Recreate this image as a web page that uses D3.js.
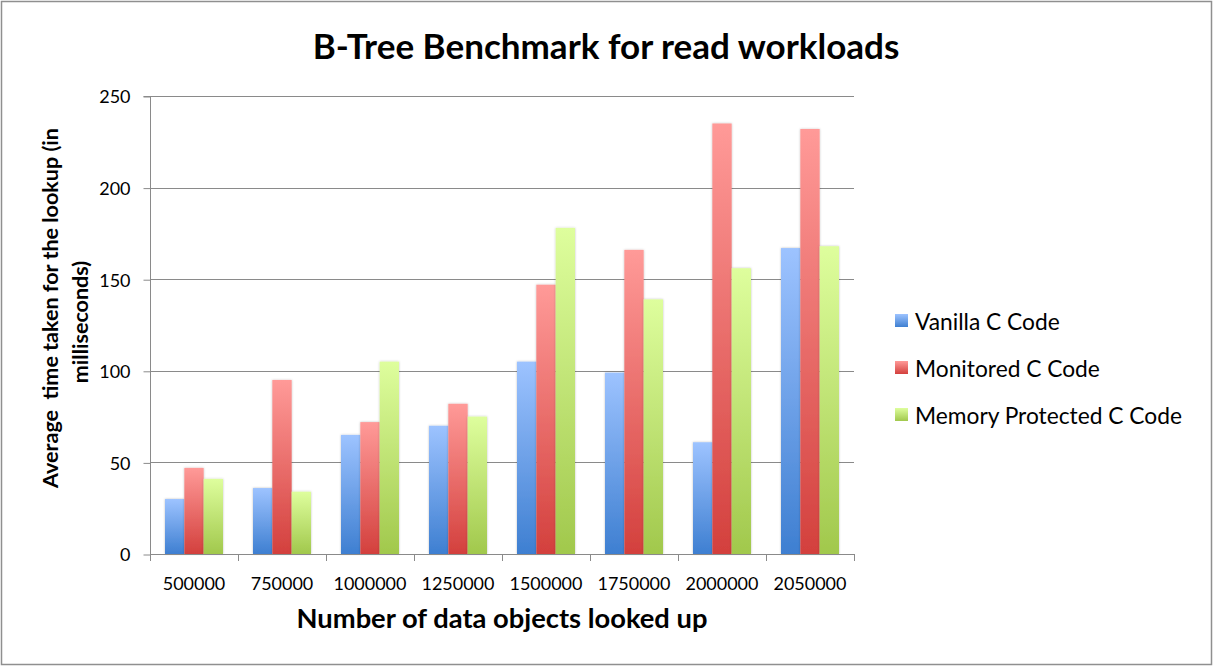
<!DOCTYPE html>
<meta charset="utf-8">
<style>
  body { margin: 0; background: #fff; }
  text { font-family: "Lato", "Open Sans", sans-serif; fill: #000; }
</style>
<body>
<script src="https://d3js.org/d3.v7.min.js"></script>
<script>

// Data.

var categories = ["500000", "750000", "1000000", "1250000", "1500000", "1750000", "2000000", "2050000"];
var seriesNames = ["Vanilla C Code", "Monitored C Code", "Memory Protected C Code"];
var vanilla = [30, 36, 65, 70, 105, 99, 61, 167];
var monitored = [47, 95, 72, 82, 147, 166, 235, 232];
var memProtected = [41, 34, 105, 75, 178, 139, 156, 168];
var yTicks = [0, 50, 100, 150, 200, 250];

var seriesValues = [vanilla, monitored, memProtected];

// Gradient stops per series (top colour, bottom colour).
var gradTop = ["#9dc3ff", "#ff9a98", "#defe9d"];
var gradBottom = ["#3e7fd1", "#d3403d", "#a1c84c"];

var width = 1213,
    height = 667;

var plot = { left: 150, right: 854, top: 96, bottom: 554 };

var svg = d3.select("body").append("svg")
    .attr("width", width)
    .attr("height", height);

svg.append("rect")
    .attr("x", 1.5)
    .attr("y", 1.5)
    .attr("width", width - 3)
    .attr("height", height - 4)
    .attr("fill", "#fff")
    .attr("stroke", "#8f8f8f")
    .attr("stroke-width", 1.5);

var defs = svg.append("defs");

seriesNames.forEach(function(name, i) {
    var g = defs.append("linearGradient")
        .attr("id", "grad" + i)
        .attr("x1", 0).attr("y1", 0)
        .attr("x2", 0).attr("y2", 1);
    g.append("stop").attr("offset", "0%").attr("stop-color", gradTop[i]);
    g.append("stop").attr("offset", "100%").attr("stop-color", gradBottom[i]);
});

var shadow = defs.append("filter")
    .attr("id", "shadow")
    .attr("x", "-20%").attr("y", "-5%")
    .attr("width", "140%").attr("height", "110%");
shadow.append("feDropShadow")
    .attr("dx", 0).attr("dy", 0)
    .attr("stdDeviation", 1.2)
    .attr("flood-color", "#000")
    .attr("flood-opacity", 0.25);

// Scales.

var x = d3.scaleBand()
    .domain(categories)
    .range([plot.left, plot.right]);

var xInner = d3.scaleBand()
    .domain(d3.range(seriesNames.length))
    .range([15, x.bandwidth() - 15]);

var y = d3.scaleLinear()
    .domain([0, 250])
    .range([plot.bottom, plot.top]);

// Fit a text's font size so that it spans a given width.
function fitWidth(sel, w) {
    var size = parseFloat(sel.attr("font-size"));
    var len = sel.node().getComputedTextLength();
    sel.attr("font-size", size * w / len);
    return size * w / len;
}

// Gridlines.

svg.append("g")
    .selectAll("line")
    .data(yTicks.filter(function(d) { return d > 0; }))
    .join("line")
    .attr("x1", plot.left)
    .attr("x2", plot.right)
    .attr("y1", function(d) { return Math.round(y(d)) + 0.5; })
    .attr("y2", function(d) { return Math.round(y(d)) + 0.5; })
    .attr("stroke", "#8a8a8a")
    .attr("stroke-width", 1);

// Bars.

var groups = svg.append("g")
    .selectAll("g")
    .data(categories)
    .join("g")
    .attr("transform", function(d) { return "translate(" + x(d) + ",0)"; });

groups.selectAll("rect")
    .data(function(d, ci) {
        return seriesValues.map(function(vals, si) { return { s: si, v: vals[ci] }; });
    })
    .join("rect")
    .attr("x", function(d) { return xInner(d.s); })
    .attr("width", xInner.bandwidth())
    .attr("y", function(d) { return y(d.v); })
    .attr("height", function(d) { return y(0) - y(d.v); })
    .attr("fill", function(d) { return "url(#grad" + d.s + ")"; })
    .attr("filter", "url(#shadow)");

// Y axis.

var yAxis = d3.axisLeft(y)
    .tickValues(yTicks)
    .tickSize(7)
    .tickPadding(13)
    .tickFormat(d3.format("d"));

var yG = svg.append("g")
    .attr("transform", "translate(" + (plot.left + 0.5) + ",0.5)")
    .call(yAxis);
yG.select(".domain").attr("stroke", "#8a8a8a").attr("d", "M-7," + plot.top + "H0V" + plot.bottom);
yG.selectAll(".tick line").attr("stroke", "#8a8a8a");
yG.selectAll(".tick text")
    .attr("font-family", "Lato")
    .attr("font-size", 19)
    .attr("fill", "#000")
    .attr("dy", "0.36em");

// X axis: ticks at category boundaries.

svg.append("line")
    .attr("x1", plot.left)
    .attr("x2", plot.right)
    .attr("y1", plot.bottom + 0.5)
    .attr("y2", plot.bottom + 0.5)
    .attr("stroke", "#8a8a8a");

svg.append("g")
    .selectAll("line")
    .data(categories.concat([null]))
    .join("line")
    .attr("x1", function(d, i) { return Math.round(plot.left + i * x.step()) + 0.5; })
    .attr("x2", function(d, i) { return Math.round(plot.left + i * x.step()) + 0.5; })
    .attr("y1", plot.bottom)
    .attr("y2", plot.bottom + 7)
    .attr("stroke", "#8a8a8a");

var xLabels = svg.append("g")
    .selectAll("text")
    .data(categories)
    .join("text")
    .attr("x", function(d) { return x(d) + x.bandwidth() / 2; })
    .attr("y", 590)
    .attr("text-anchor", "middle")
    .attr("font-size", 19)
    .text(function(d) { return d; });

var tickSize = fitWidth(xLabels.filter(function(d) { return d === "1000000"; }), 73);
xLabels.attr("font-size", tickSize);
yG.selectAll(".tick text").attr("font-size", tickSize);

// Title.

var title = svg.append("text")
    .attr("x", 606)
    .attr("y", 59)
    .attr("text-anchor", "middle")
    .attr("font-weight", "bold")
    .attr("font-size", 34)
    .text("B-Tree Benchmark for read workloads");
fitWidth(title, 587);

// Axis titles.

var xTitle = svg.append("text")
    .attr("x", 502)
    .attr("y", 628)
    .attr("text-anchor", "middle")
    .attr("font-weight", "bold")
    .attr("font-size", 24)
    .text("Number of data objects looked up");
fitWidth(xTitle, 411);

var yTitle1 = svg.append("text")
    .attr("transform", "translate(58,308) rotate(-90)")
    .attr("text-anchor", "middle")
    .attr("font-weight", "bold")
    .attr("font-size", 20)
    .attr("xml:space", "preserve")
    .text("Average  time taken for the lookup (in");
var ySize = fitWidth(yTitle1, 360);

svg.append("text")
    .attr("transform", "translate(88,322) rotate(-90)")
    .attr("text-anchor", "middle")
    .attr("font-weight", "bold")
    .attr("font-size", ySize)
    .text("milliseconds)");

// Legend.

var legend = svg.append("g")
    .selectAll("g")
    .data(seriesNames)
    .join("g")
    .attr("transform", function(d, i) { return "translate(895," + (314 + i * 47) + ")"; });

legend.append("rect")
    .attr("width", 13)
    .attr("height", 13)
    .attr("fill", function(d, i) { return "url(#grad" + i + ")"; });

var legendText = legend.append("text")
    .attr("x", 20)
    .attr("y", 16)
    .attr("font-size", 20)
    .text(function(d) { return d; });

var legSize = fitWidth(legendText.filter(function(d, i) { return i === 2; }), 267);
legendText.attr("font-size", legSize);

</script>
</body>
</html>
